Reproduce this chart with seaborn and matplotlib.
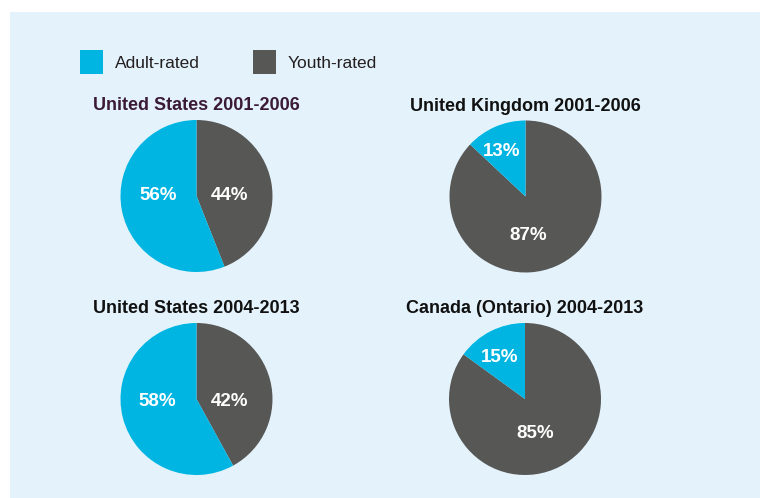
import matplotlib
matplotlib.use("Agg")
import matplotlib.pyplot as plt
from matplotlib.patches import Patch, Rectangle
import seaborn as sns

# data
titles = ["United States 2001-2006", "United Kingdom 2001-2006",
          "United States 2004-2013", "Canada (Ontario) 2004-2013"]
series = ["Youth-rated", "Adult-rated"]
youth_pct = [44, 87, 42, 85]
adult_pct = [56, 13, 58, 15]

# layout (pixels on a 760x498 canvas) and label offsets in pie radii
W, H = 760, 498
centers = [(196.5, 196), (525.5, 196.5), (196.5, 399), (525, 399)]
radius = 76
label_xy = [
    [(0.43, 0.01), (-0.51, 0.01)],
    [(0.03, -0.51), (-0.32, 0.59)],
    [(0.43, -0.03), (-0.51, -0.03)],
    [(0.13, -0.45), (-0.34, 0.54)],
]
title_colors = ["#3b1a36", "#111111", "#111111", "#111111"]

blue, gray = "#00b5e2", "#575756"
bg = "#e4f3fb"

sns.set_style("white")
plt.rcParams["font.family"] = ["Liberation Sans", "DejaVu Sans"]
colors = sns.color_palette([gray, blue])

fig = plt.figure(figsize=(W / 100, H / 100), dpi=100)
fig.patch.set_facecolor("white")
fig.patches.append(Rectangle((10 / W, 0), 1 - 10 / W, 1 - 12 / H,
                             transform=fig.transFigure, facecolor=bg,
                             edgecolor="none", zorder=-5))

for i, title in enumerate(titles):
    cx, cy = centers[i]
    ax = fig.add_axes([(cx - radius) / W, 1 - (cy + radius) / H,
                       2 * radius / W, 2 * radius / H])
    ax.set_facecolor("none")
    ax.set_zorder(2)
    vals = [youth_pct[i], adult_pct[i]]
    ax.pie(vals, colors=colors, startangle=90, counterclock=False,
           radius=1, wedgeprops=dict(linewidth=0))
    ax.set_xlim(-1, 1)
    ax.set_ylim(-1, 1)
    ax.set_aspect("equal")
    ax.axis("off")
    for v, (lx, ly) in zip(vals, label_xy[i]):
        ax.text(lx, ly, f"{v}%", color="white", fontsize=13.5,
                fontweight="bold", ha="center", va="center")
    ax.text(0, 1.13, title, color=title_colors[i], fontsize=13,
            fontweight="bold", ha="center", va="baseline", clip_on=False)

handles = [Patch(facecolor=blue, edgecolor="none"),
           Patch(facecolor=gray, edgecolor="none")]
fig.legend(handles, ["Adult-rated", "Youth-rated"], loc="upper left",
           bbox_to_anchor=(80 / W, 1 - 50 / H), ncol=2, frameon=False,
           fontsize=12.5, handlelength=1.32, handleheight=1.75,
           handletextpad=0.7, columnspacing=3.05, borderpad=0,
           borderaxespad=0, labelcolor="#231f20")

fig.savefig("out.png", dpi=100, facecolor=fig.get_facecolor())
